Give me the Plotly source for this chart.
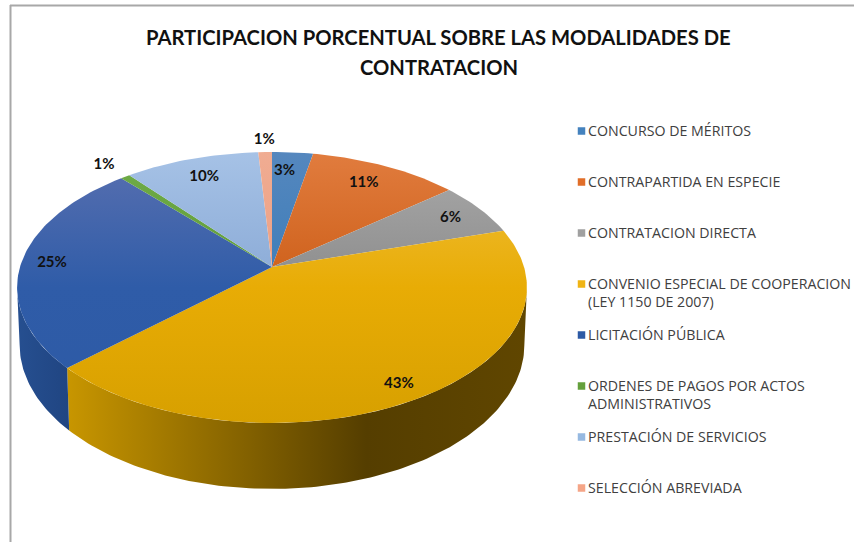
import numpy as np
import plotly.graph_objects as go

TITLE_LINES = ["PARTICIPACION PORCENTUAL SOBRE LAS MODALIDADES DE", "CONTRATACION"]
categories = ["CONCURSO DE MÉRITOS", "CONTRAPARTIDA EN ESPECIE", "CONTRATACION DIRECTA",
              "CONVENIO ESPECIAL DE COOPERACION<br>(LEY 1150 DE 2007)", "LICITACIÓN PÚBLICA",
              "ORDENES DE PAGOS POR ACTOS<br>ADMINISTRATIVOS", "PRESTACIÓN DE SERVICIOS",
              "SELECCIÓN ABREVIADA"]
values = [3.0, 11.0, 6.4, 42.6, 25.4, 0.7, 9.9, 1.0]
label_radii = [0.825, 0.816, 0.852, 0.893, 0.879, 1.163, 0.822, 1.133]
label_angle_offsets = [-1.5, -1.0, 0.0, 0.0, 0.0, 0.0, 0.0, 0.0]
legend_colors = ["#4482be", "#e16e28", "#a0a0a0", "#f0b414", "#2d5aa5", "#64a03c", "#96b9e1", "#f5a587"]
top_upper = ["#5587be", "#e17c3e", "#aaaaaa", "#f0c040", "#5a70b0", "#70ad47", "#a6c2e6", "#f0ac92"]
top_mid = ["#3c7db9", "#cd5f19", "#8c8c8c", "#e8ac05", "#2f5ca8", "#5f9a3a", "#8aaad6", "#ec9f83"]
top_lower = ["#3c7db9", "#cd5f19", "#8c8c8c", "#d7a000", "#2d5aa5", "#5f9a3a", "#8aaad6", "#ec9f83"]
side_scales = {3: [(0.0, "#c89600"), (0.65, "#553e00"), (1.0, "#604600")],
               4: [(0.0, "#264f90"), (1.0, "#204582")]}

# Perspective pie projection
CX, CY, AX, BY, K, DEPTH, LOWER_SCALE = 272, 267, 252, 132.4, 0.151, 56, 0.99
TITLE_FONT = "Lato"
LEGEND_FONT = "Open Sans"


def project(angle, radius=1.0):
    u, v = radius * np.sin(angle), radius * np.cos(angle)
    d = 1 + K * v
    return CX + AX * u / d, CY - BY * v / d, d


def arc(a0, a1):
    n = max(3, int(abs(a1 - a0) / np.radians(1.0)))
    return np.linspace(a0, a1, n)


fig = go.Figure()
edges = np.radians(np.concatenate([[0], np.cumsum(values)]) * 3.6)
vis0, vis1 = np.arccos(-K), 2 * np.pi - np.arccos(-K)

# sides first
for i in range(len(values)):
    a0, a1 = max(edges[i], vis0), min(edges[i + 1], vis1)
    if a1 <= a0 or i not in side_scales:
        continue
    t = arc(a0, a1)
    x, y, d = project(t)
    xb = CX + (x - CX) * LOWER_SCALE
    yb = y + DEPTH / d
    px = np.concatenate([x, xb[::-1]])
    py = np.concatenate([y, yb[::-1]])
    fig.add_trace(go.Scatter(
        x=px, y=py, mode="lines", line=dict(width=0), fill="toself", hoverinfo="skip", showlegend=False,
        fillgradient=dict(type="horizontal", start=float(px.min()), stop=float(px.max()),
                          colorscale=[[s, c] for s, c in side_scales[i]])))

# tops
rim_top = project(0.0)[1]
rim_bottom = project(np.pi)[1]
for i in range(len(values)):
    t = arc(edges[i], edges[i + 1])
    x, y, _ = project(t)
    px = np.concatenate([[CX], x, [CX]])
    py = np.concatenate([[CY], y, [CY]])
    fig.add_trace(go.Scatter(
        x=px, y=py, mode="lines", line=dict(width=0), fill="toself", hoverinfo="skip", showlegend=False,
        fillgradient=dict(type="vertical", start=float(rim_top), stop=float(rim_bottom),
                          colorscale=[[0, top_upper[i]], [0.5, top_mid[i]], [1, top_lower[i]]])))

# frame lines
fig.add_shape(type="line", x0=10.5, x1=10.5, y0=5, y1=542, line=dict(color="#a8a8a8", width=2))
fig.add_shape(type="line", x0=10, x1=854, y0=5.5, y1=5.5, line=dict(color="#a8a8a8", width=2))

# percent labels
mids = (edges[:-1] + edges[1:]) / 2 + np.radians(label_angle_offsets)
lx, ly, _ = project(mids, np.array(label_radii))
fig.add_trace(go.Scatter(
    x=lx, y=ly + 1.5, mode="text", text=[f"{round(v)}%" for v in values], showlegend=False, hoverinfo="skip",
    textposition="middle center", textfont=dict(family=TITLE_FONT, size=15, color="#111111", weight="bold")))

# legend
LEG_X, LEG_Y, LEG_STEP = 581.5, 131, 51
leg_y = [LEG_Y + LEG_STEP * i for i in range(len(categories))]
fig.add_trace(go.Scatter(
    x=[LEG_X] * len(categories), y=leg_y, mode="markers", showlegend=False, hoverinfo="skip",
    marker=dict(symbol="square", size=7.5, color=legend_colors, line=dict(width=0))))
for name, y in zip(categories, leg_y):
    fig.add_annotation(x=LEG_X + 5.5, y=y - 11, text=name, xanchor="left", yanchor="top", align="left",
                       showarrow=False, borderpad=0,
                       font=dict(family=LEGEND_FONT, size=14.2, color="#404040"))

# title, one annotation per line to keep the wide line spacing
for line, y in zip(TITLE_LINES, [37, 67]):
    fig.add_annotation(x=438.5, y=y, text=f"<b>{line}</b>", xanchor="center", yanchor="middle", align="center",
                       showarrow=False, font=dict(family=TITLE_FONT, size=20.2, color="#111111"))

fig.update_layout(
    width=854, height=542, margin=dict(l=0, r=0, t=0, b=0), paper_bgcolor="white", plot_bgcolor="white",
    xaxis=dict(range=[0, 854], visible=False, fixedrange=True),
    yaxis=dict(range=[542, 0], visible=False, fixedrange=True))
fig.write_html("out.html", config=dict(displayModeBar=False),
               post_script="document.body.style.margin='0';document.documentElement.style.overflow='hidden';")
